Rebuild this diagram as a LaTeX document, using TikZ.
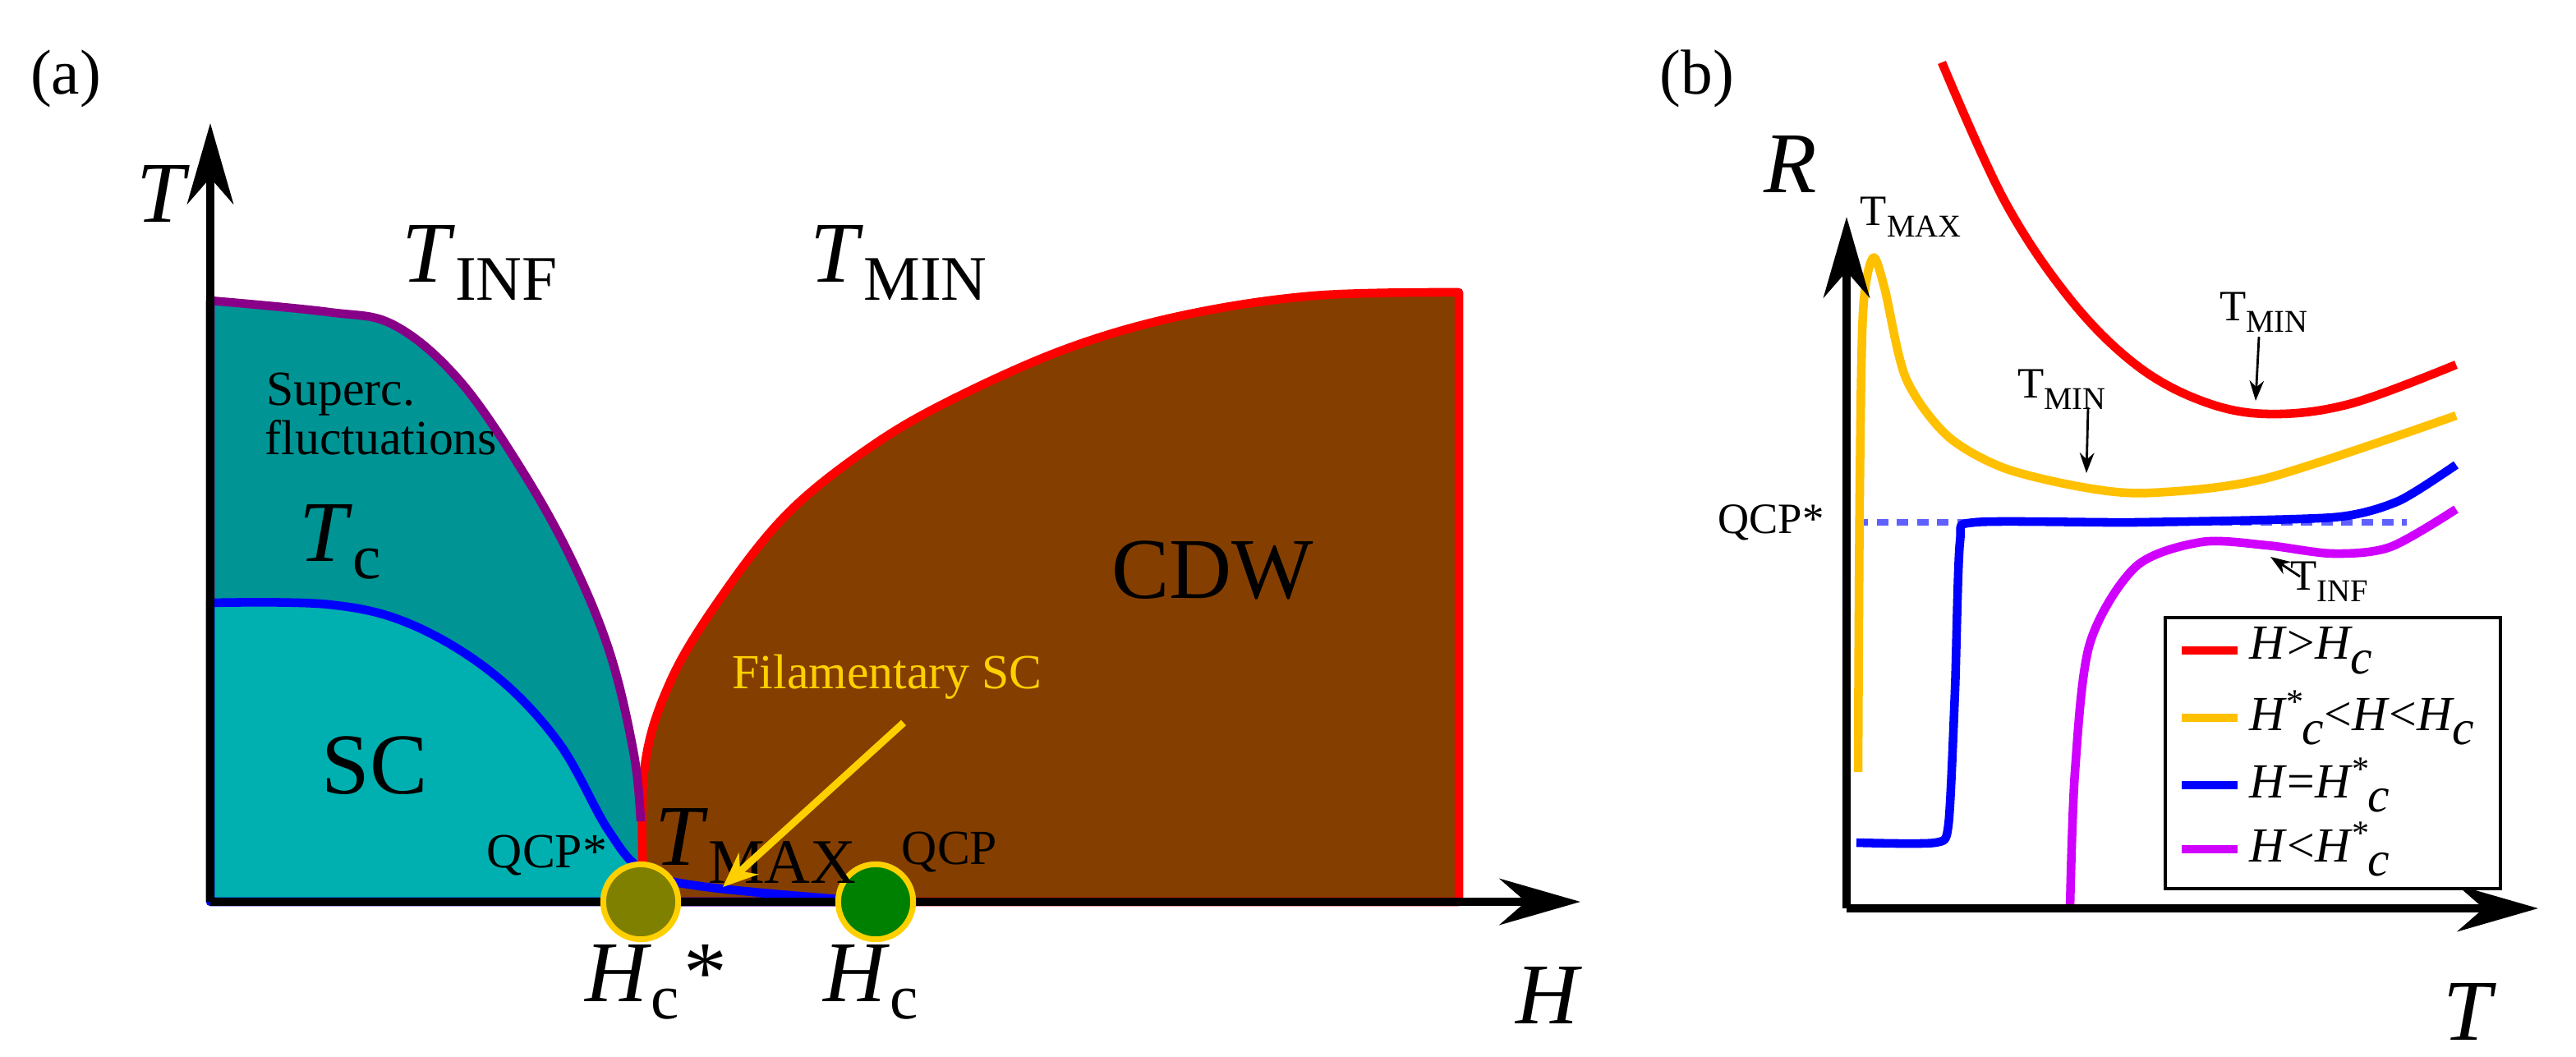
\documentclass[tikz,border=0pt]{standalone}
\usepackage{fontspec}
\setmainfont{Liberation Serif}
\newfontfamily\tms{Liberation Serif}
\usetikzlibrary{arrows.meta}
\definecolor{tdark}{HTML}{009494}
\definecolor{tlight}{HTML}{00B0B0}
\definecolor{cdwb}{HTML}{843F00}
\definecolor{purp}{HTML}{880088}
\definecolor{fyel}{HTML}{FFD000}
\definecolor{oliv}{HTML}{808000}
\definecolor{grn}{HTML}{008000}
\definecolor{mag}{HTML}{D000FF}
\definecolor{oy}{HTML}{FFC000}
\definecolor{dotb}{HTML}{6060FF}
\begin{document}
\begin{tikzpicture}[x=0.02cm,y=-0.02cm,font=\tms,
  axis/.style={line width=3pt,-{Stealth[length=28pt,width=16pt]}},
  curve/.style={line width=3pt,line join=round},
  lbl/.style={inner sep=0pt,font=\tms\fontsize{30}{32}\selectfont\itshape},
  txt/.style={inner sep=0pt,font=\tms\fontsize{17}{19}\selectfont},
  small/.style={inner sep=0pt,font=\tms\fontsize{15}{17}\selectfont},
  marrow/.style={line width=0.8pt,-{Stealth[length=7pt,width=5pt]}}]
\useasboundingbox (0,0) rectangle (1568,643.5);
% ---------- panel (a)
\fill[tdark] (128,549) -- (128,183) -- plot[smooth,tension=0.6] coordinates {(128,183)(200,190)(240,198)(280,232)(320,290)(350,345)(372,400)(386,460)(390,540)} -- (390,549) -- cycle;
\fill[tlight] (128,549) -- (128,367) -- plot[smooth,tension=0.6] coordinates {(128,367)(200,368)(250,380)(300,410)(340,452)(370,505)(392,530)(430,540)(530,549)} -- cycle;
\fill[cdwb] plot[smooth,tension=0.6] coordinates {(392,549)(392,470)(408,415)(440,362)(480,312)(530,272)(580,243)(650,212)(720,192)(800,180)(888,178)} -- (888,549) -- cycle;
\draw[curve,red] plot[smooth,tension=0.6] coordinates {(392,549)(392,470)(408,415)(440,362)(480,312)(530,272)(580,243)(650,212)(720,192)(800,180)(888,178)} -- (888,549) -- (392,549);
\draw[curve,purp] (128,367) -- (128,183) -- plot[smooth,tension=0.6] coordinates {(128,183)(200,190)(240,198)(280,232)(320,290)(350,345)(372,400)(386,460)(390,500)};
\draw[curve,blue] (530,549) -- (128,549) -- (128,367) -- plot[smooth,tension=0.6] coordinates {(128,367)(200,368)(250,380)(300,410)(340,452)(370,505)(392,530)(430,540)(530,549)};
\coordinate (ao) at (128,549);
\coordinate (ay) at (128,75);
\coordinate (ax) at (962,549);
\draw[axis] (ao) -- (ay);
\draw[axis] (ao) -- (ax);
\node[circle,fill=oliv,draw=fyel,line width=2pt,minimum size=26pt,inner sep=0pt] (qs) at (390,549) {};
\node[circle,fill=grn,draw=fyel,line width=2pt,minimum size=26pt,inner sep=0pt] (qc) at (533,549) {};
\node[inner sep=0pt,font=\tms\fontsize{22}{24}\selectfont] (la) at (40,48) {(a)};
\node[lbl] (lT) at (98,118) {T};
\node[lbl] (lH) at (942,606) {H};
\node[lbl] (tinf) at (292,160) {T\textup{\fontsize{22}{24}\selectfont\raisebox{-6pt}{INF}}};
\node[lbl] (tmin) at (547,160) {T\textup{\fontsize{22}{24}\selectfont\raisebox{-6pt}{MIN}}};
\node[lbl] (tc) at (207,330) {T\textup{\fontsize{22}{24}\selectfont\raisebox{-6pt}{c}}};
\node[lbl] (tmax) at (460,515) {T\textup{\fontsize{22}{24}\selectfont\raisebox{-6pt}{MAX}}};
\node[txt,align=center] (sf) at (232,252) {\hspace*{-28pt}Superc.\\[-2pt]fluctuations};
\node[inner sep=0pt,font=\tms\fontsize{30}{32}\selectfont] (sc) at (228,466) {SC};
\node[inner sep=0pt,font=\tms\fontsize{30}{32}\selectfont] (cdw) at (738,347) {CDW};
\node[txt] (qcps) at (333,521) {QCP*};
\node[txt] (qcp) at (578,519) {QCP};
\node[txt,text=fyel] (fil) at (540,412) {Filamentary SC};
\node[lbl] (hcs) at (398,598) {H\textup{\fontsize{22}{24}\selectfont\raisebox{-6pt}{c}}*};
\node[lbl] (hc) at (530,598) {H\textup{\fontsize{22}{24}\selectfont\raisebox{-6pt}{c}}};
\coordinate (fa) at (550,440);
\coordinate (fb) at (440,540);
\draw[line width=2.5pt,fyel,-{Stealth[length=12pt,width=10pt]}] (fa) -- (fb);
% ---------- panel (b)
\node[inner sep=0pt,font=\tms\fontsize{22}{24}\selectfont] (lb) at (1033,48) {(b)};
\draw[dotb,line width=2.2pt,dash pattern=on 4pt off 3pt] (1130,318) -- (1465,318);
\draw[curve,red] plot[smooth,tension=0.6] coordinates {(1182,38)(1220,122)(1260,182)(1300,222)(1340,244)(1380,252)(1430,246)(1495,222)};
\draw[curve,oy] plot[smooth,tension=0.5] coordinates {(1131,470)(1132,300)(1134,190)(1140,157)(1147,175)(1160,230)(1185,265)(1220,285)(1270,297)(1310,300)(1380,291)(1495,253)};
\draw[curve,blue] plot[smooth,tension=0.4] coordinates {(1130,513)(1178,513)(1186,502)(1190,420)(1193,330)(1202,318)(1300,318)(1420,315)(1460,305)(1495,283)};
\draw[curve,mag] plot[smooth,tension=0.5] coordinates {(1260,553)(1263,470)(1272,392)(1300,345)(1340,330)(1380,332)(1420,337)(1455,333)(1495,310)};
\coordinate (bo) at (1124,553);
\coordinate (by) at (1124,132);
\coordinate (bx) at (1545,553);
\draw[axis] (bo) -- (by);
\draw[axis] (bo) -- (bx);
\node[lbl] (lR) at (1090,100) {R};
\node[lbl] (lT2) at (1502,616) {T};
\node[small] (qb) at (1078,318) {QCP*};
\node[small] (bmax) at (1163,132) {T\raisebox{-4pt}{\fontsize{11}{12}\selectfont MAX}};
\node[small] (bmin1) at (1378,190) {T\raisebox{-4pt}{\fontsize{11}{12}\selectfont MIN}};
\node[small] (bmin2) at (1255,237) {T\raisebox{-4pt}{\fontsize{11}{12}\selectfont MIN}};
\node[small] (binf) at (1418,354) {T\raisebox{-4pt}{\fontsize{11}{12}\selectfont INF}};
\coordinate (m1a) at (1375,205); \coordinate (m1b) at (1373,244);
\coordinate (m2a) at (1271,248); \coordinate (m2b) at (1270,288);
\coordinate (i1a) at (1400,351); \coordinate (i1b) at (1382,339);
\draw[marrow] (m1a) -- (m1b);
\draw[marrow] (m2a) -- (m2b);
\draw[marrow] (i1a) -- (i1b);
\draw[line width=1pt,fill=white] (1318,376) rectangle (1522,541);
\tikzset{ll/.style={line width=3pt},lt/.style={anchor=west,inner sep=0pt,font=\tms\fontsize{17}{19}\selectfont\itshape}}
\draw[ll,red] (1328,396) -- (1362,396);
\draw[ll,oy] (1328,437) -- (1362,437);
\draw[ll,blue] (1328,478) -- (1362,478);
\draw[ll,mag] (1328,517) -- (1362,517);
\node[lt] (e1) at (1369,396) {H\textup{>}H\raisebox{-5pt}{c}};
\node[lt] (e2) at (1369,437) {H\raisebox{6pt}{\fontsize{12}{13}\selectfont*}\raisebox{-5pt}{c}\textup{<}H\textup{<}H\raisebox{-5pt}{c}};
\node[lt] (e3) at (1369,478) {H\textup{=}H\raisebox{6pt}{\fontsize{12}{13}\selectfont*}\raisebox{-5pt}{c}};
\node[lt] (e4) at (1369,517) {H\textup{<}H\raisebox{6pt}{\fontsize{12}{13}\selectfont*}\raisebox{-5pt}{c}};
\end{tikzpicture}
\end{document}
